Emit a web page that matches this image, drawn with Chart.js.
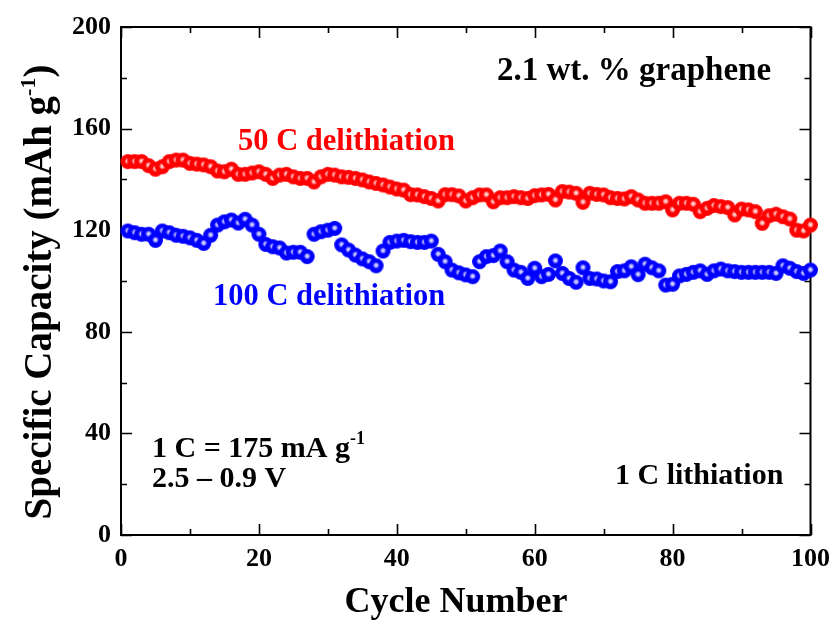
<!DOCTYPE html>
<html lang="en">
<head>
<meta charset="UTF-8">
<title>Specific capacity vs cycle number</title>
<script src="https://cdn.jsdelivr.net/npm/chart.js@4.4.0/dist/chart.umd.min.js"></script>
<style>
  html, body { margin: 0; padding: 0; background: #fff; }
  canvas { display: block; }
</style>
</head>
<body>
<canvas id="cap_chart" width="839" height="621"></canvas>
<script>
    // 50 C delithiation capacity (mAh/g), cycles 1..100
    var red50C = [
        147, 147, 147, 145.4, 144, 145, 147, 147.6, 147.6, 146.3,
        146, 145.7, 145, 143.3, 143, 144, 142, 142, 142.5, 143,
        142, 140.4, 141.7, 142, 141, 140.4, 140.4, 139, 141, 142,
        141.7, 141, 140.8, 140.4, 139.8, 139, 138.4, 137.8, 137, 136.2,
        135.8, 134, 133.9, 133.2, 132.5, 131.5, 134, 134, 133.5, 131.5,
        132.8, 133.9, 133.9, 131.2, 132.8, 132.8, 133.2, 132.8, 132.5, 133.6,
        133.9, 134.1, 131.9, 135.2, 135, 134.5, 131, 134.5, 134.1, 133.9,
        132.8, 132.5, 132.3, 133.2, 131.9, 130.6, 130.6, 130.6, 131.2, 128,
        130.6, 130.6, 130.2, 127.3, 128.6, 129.7, 129.3, 128.9, 126, 128.3,
        128, 127.3, 122.7, 125.7, 126.3, 125.3, 124.4, 120, 119.7, 122
    ];
    // 100 C delithiation capacity (mAh/g), cycles 1..100
    var blue100C = [
        119.7, 119, 118.4, 118.4, 116, 119.7, 119, 118, 117.6, 117,
        116, 114.8, 118, 122, 123.3, 124, 122.8, 124.3, 122, 118.4,
        114.4, 113.5, 113, 111, 111.3, 111.3, 109.6, 118.4, 119.4, 120,
        120.7, 114.2, 112.2, 110.2, 108.7, 107.6, 106, 111.8, 115.2, 115.7,
        116, 115.5, 115.2, 115.2, 115.7, 110.5, 107.6, 104.3, 103.2, 102.4,
        101.7, 107.6, 109.6, 110, 111.8, 107.6, 104.3, 103.4, 101, 105,
        101.7, 102.6, 107.9, 103, 101, 99.5, 105.2, 101, 100.8, 100,
        99.7, 103.7, 104, 105.6, 102.5, 106.6, 105.2, 104, 98.4, 98.7,
        102, 102.6, 103.4, 104, 102.6, 104, 104.7, 104, 103.7, 103.4,
        103.4, 103.4, 103.4, 103.4, 103, 106, 105, 103.7, 103, 104.3
    ];
    var cycles = Array.from({length: red50C.length}, (_, i) => i + 1);

    var xTicks = [0, 20, 40, 60, 80, 100];
    var xMinor = [10, 30, 50, 70, 90];
    var yTicks = [0, 40, 80, 120, 160, 200];
    var yMinor = [20, 60, 100, 140, 180];

    var FONT = '"Liberation Serif", "Times New Roman", serif';

    // shaded ball marker
    var makeBall = function(base, light) {
        var r = 7.5, c = document.createElement('canvas');
        c.width = c.height = 17;
        var g = c.getContext('2d'), cx = 8.5;
        g.fillStyle = base;
        g.beginPath();
        g.arc(cx, cx, r, 0, Math.PI * 2);
        g.fill();
        var grad = g.createRadialGradient(cx, cx - 0.5, 0, cx, cx - 0.5, 3.4);
        grad.addColorStop(0, 'rgba(255,255,255,1)');
        grad.addColorStop(0.45, light);
        grad.addColorStop(1, 'rgba(255,255,255,0)');
        g.fillStyle = grad;
        g.beginPath();
        g.arc(cx, cx, r, 0, Math.PI * 2);
        g.fill();
        return c;
    };

    var frame = {
        id: 'frame',
        beforeDatasetsDraw: function(chart) {
            var ctx = chart.ctx, a = chart.chartArea;
            var xs = chart.scales.x, ys = chart.scales.y;
            ctx.save();
            ctx.strokeStyle = '#000';
            ctx.lineWidth = 2;
            ctx.strokeRect(a.left, a.top, a.right - a.left, a.bottom - a.top);
            ctx.lineWidth = 1.6;
            var tick = function(vals, len) {
                vals.forEach(function(v) {
                    var px = Math.round(xs.getPixelForValue(v)) + 0.5;
                    ctx.beginPath();
                    ctx.moveTo(px, a.bottom); ctx.lineTo(px, a.bottom - len);
                    ctx.moveTo(px, a.top); ctx.lineTo(px, a.top + len);
                    ctx.stroke();
                });
            };
            var ytick = function(vals, len) {
                vals.forEach(function(v) {
                    var py = Math.round(ys.getPixelForValue(v)) + 0.5;
                    ctx.beginPath();
                    ctx.moveTo(a.left, py); ctx.lineTo(a.left + len, py);
                    ctx.moveTo(a.right, py); ctx.lineTo(a.right - len, py);
                    ctx.stroke();
                });
            };
            tick(xTicks, 11); tick(xMinor, 6);
            ytick(yTicks, 11); ytick(yMinor, 6);
            ctx.restore();
        },
        afterDraw: function(chart) {
            var ctx = chart.ctx;
            ctx.save();
            ctx.textBaseline = 'alphabetic';
            ctx.textAlign = 'left';
            var put = function(parts, x, y, color) {
                ctx.fillStyle = color;
                parts.forEach(function(p) {
                    ctx.font = 'bold ' + p[1] + 'px ' + FONT;
                    ctx.fillText(p[0], x, y - (p[2] || 0));
                    x += ctx.measureText(p[0]).width;
                });
            };
            put([['2.1 wt. % graphene', 33]], 497, 80, '#000');
            put([['50 C delithiation', 30.5]], 238, 150, '#ff0000');
            put([['100 C delithiation', 30.5]], 213, 305, '#0000ff');
            put([['1 C = 175 mA g', 30], ['-1', 18, 13]], 152, 457, '#000');
            put([['2.5 \u2013 0.9 V', 30]], 152, 487, '#000');
            put([['1 C lithiation', 30]], 615, 484, '#000');

            // x axis title
            ctx.font = 'bold 36px ' + FONT;
            ctx.textAlign = 'center';
            ctx.fillText('Cycle Number', 456, 612);

            // y axis title, rotated
            var yParts = [['Specific Capacity (mAh g', 39], ['-1', 22, 16], [')', 39]];
            var total = 0;
            yParts.forEach(function(p) {
                ctx.font = 'bold ' + p[1] + 'px ' + FONT;
                total += ctx.measureText(p[0]).width;
            });
            ctx.translate(51, 292);
            ctx.rotate(-Math.PI / 2);
            ctx.textAlign = 'left';
            put(yParts, -total / 2, 0, '#000');
            ctx.restore();
        }
    };

    var ctx = document.getElementById('cap_chart').getContext('2d');
    var chart = new Chart(ctx, {
        type: 'scatter',
        data: {
            datasets: [
                {
                    label: '50 C delithiation',
                    data: cycles.map((c, i) => ({x: c, y: red50C[i]})),
                    pointStyle: makeBall('#ff0000', 'rgba(255,200,200,0.85)'),
                    clip: false
                },
                {
                    label: '100 C delithiation',
                    data: cycles.map((c, i) => ({x: c, y: blue100C[i]})),
                    pointStyle: makeBall('#0000ff', 'rgba(200,200,255,0.85)'),
                    clip: false
                }
            ]
        },
        options: {
            responsive: false,
            animation: false,
            layout: { padding: { left: 0, right: 28, top: 27, bottom: 0 } },
            plugins: { legend: { display: false }, tooltip: { enabled: false } },
            scales: {
                x: {
                    type: 'linear', min: 0, max: 100,
                    grid: { display: false, drawTicks: false },
                    border: { display: false },
                    afterBuildTicks: function(s) { s.ticks = xTicks.map(v => ({value: v})); },
                    afterFit: function(s) { s.height = 86; },
                    ticks: { color: '#000', padding: 9, maxRotation: 0,
                             font: { family: FONT, size: 26, weight: 'bold' } }
                },
                y: {
                    type: 'linear', min: 0, max: 200,
                    grid: { display: false, drawTicks: false },
                    border: { display: false },
                    afterBuildTicks: function(s) { s.ticks = yTicks.map(v => ({value: v})); },
                    afterFit: function(s) { s.width = 121; },
                    ticks: { color: '#000', padding: 10,
                             font: { family: FONT, size: 26, weight: 'bold' } }
                }
            }
        },
        plugins: [frame]
    });
</script>
</body>
</html>
